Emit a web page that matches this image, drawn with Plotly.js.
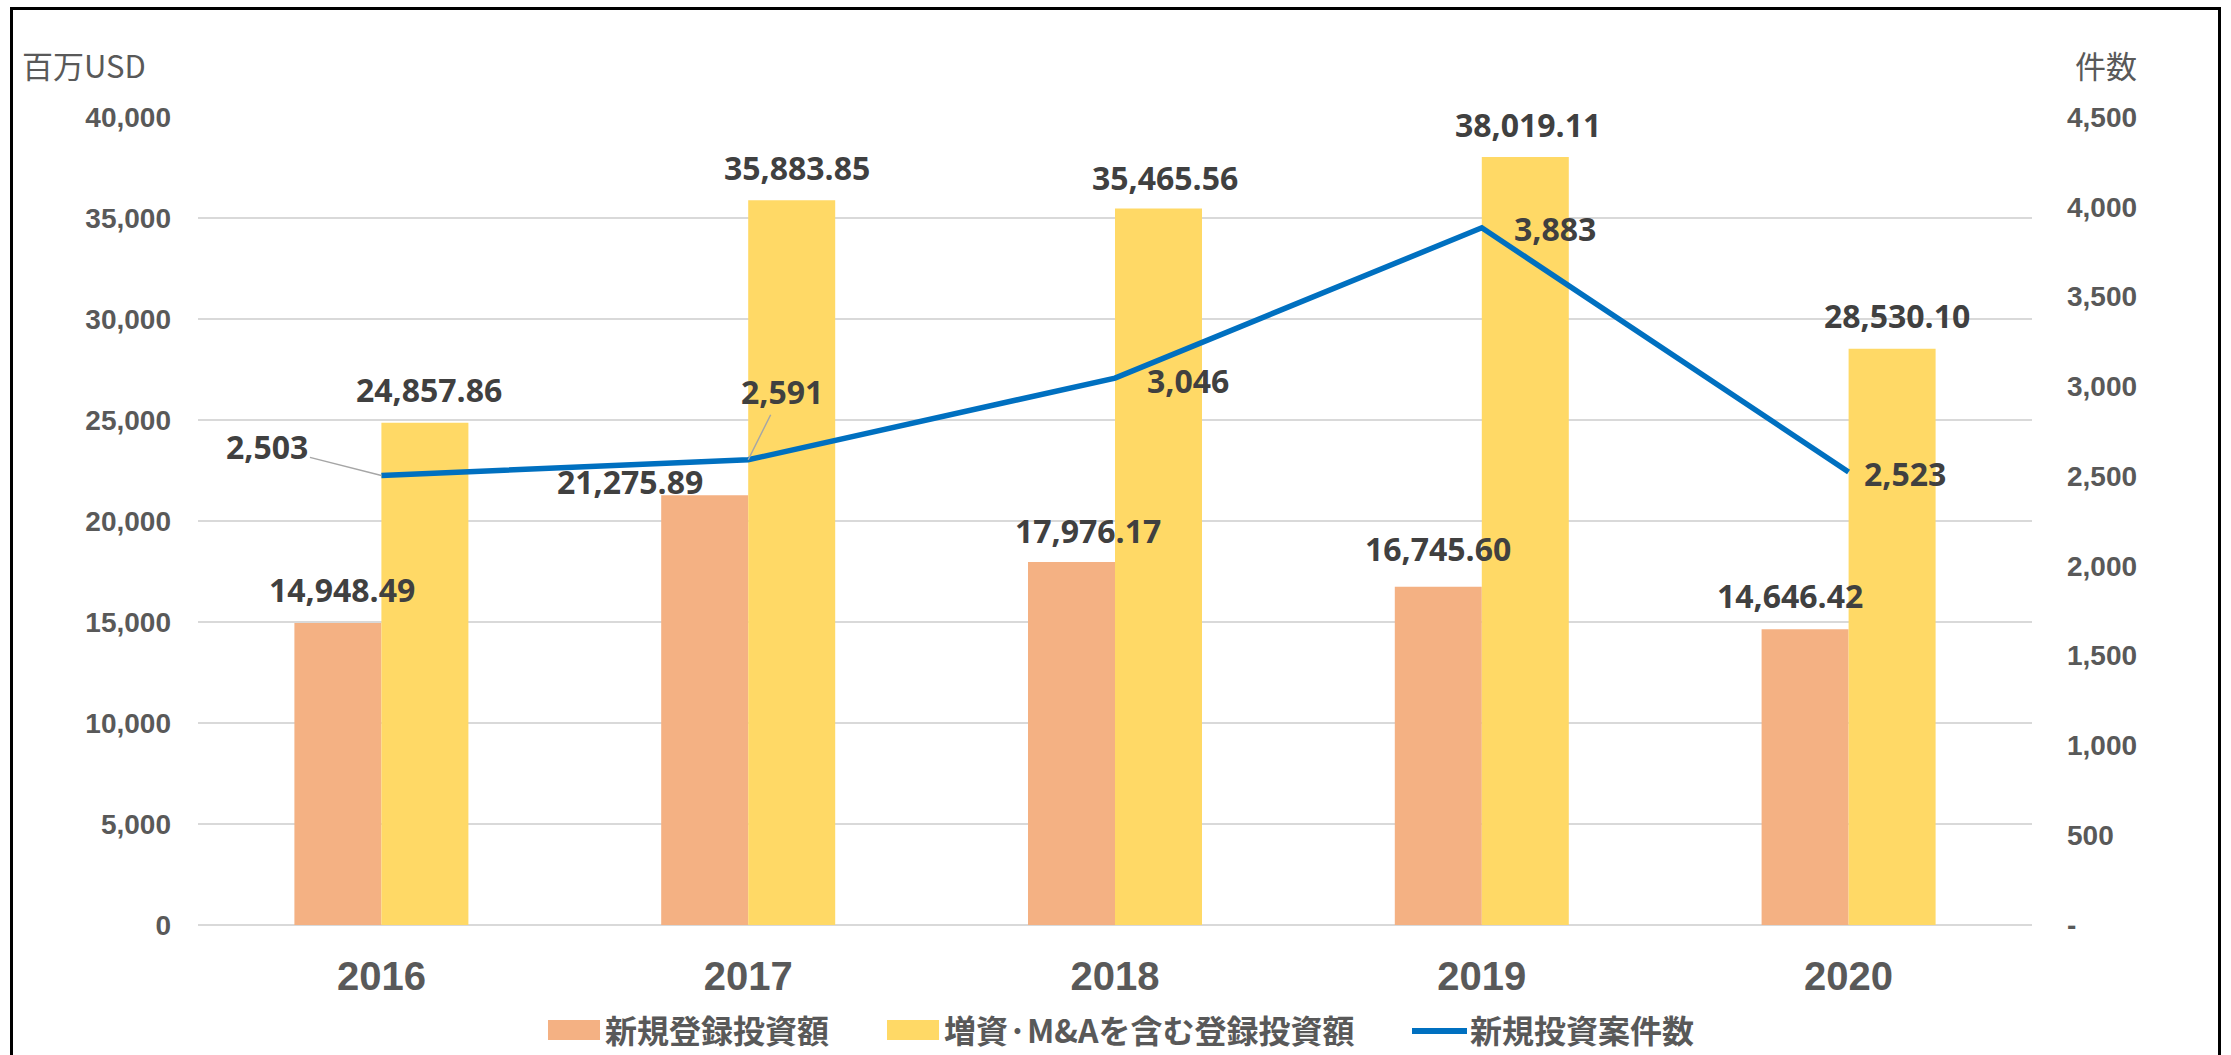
<!DOCTYPE html>
<html><head><meta charset="utf-8">
<script src="https://cdn.plot.ly/plotly-3.0.1.min.js"></script>
<style>
html,body{margin:0;padding:0;background:#fff;overflow:hidden}
#frame{position:absolute;left:10px;top:7px;width:2205px;height:1100px;border:3px solid #000;pointer-events:none}
</style></head><body>
<div id="chart" style="width:2231px;height:1055px"></div>
<div id="frame"></div>
<script>
// ---- data ----
const years = ['2016', '2017', '2018', '2019', '2020'];
const newInvest = [14948.49, 21275.89, 17976.17, 16745.60, 14646.42];
const totalInvest = [24857.86, 35883.85, 35465.56, 38019.11, 28530.10];
const dealCount = [2503, 2591, 3046, 3883, 2523];
const seriesNames = ['新規登録投資額', '増資·M&Aを含む登録投資額', '新規投資案件数'];
const leftTickVals = [0, 5000, 10000, 15000, 20000, 25000, 30000, 35000, 40000];
const rightTickVals = [0, 500, 1000, 1500, 2000, 2500, 3000, 3500, 4000, 4500];
const rightTickText = ['-', '500', '1,000', '1,500', '2,000', '2,500', '3,000', '3,500', '4,000', '4,500'];
const leftAxisTitle = '百万USD';
const rightAxisTitle = '件数';

// ---- layout / style ----
const W = 2231, H = 1055;
const M = {l: 198, r: 199, t: 117, b: 130};
const plotW = W - M.l - M.r, plotH = H - M.t - M.b;
const bargap = 0.5256;
const barW = plotW / years.length * (1 - bargap) / 2;
const px2x = p => (p - M.l) / plotW;
const py2y = p => (H - M.b - p) / plotH;

const orange = '#F4B183', yellow = '#FFD966', blue = '#0070C0';
const tickCol = '#595959', labCol = '#404040';
const numFont = 'Open Sans, DejaVu Sans, sans-serif';
const axFont = 'Liberation Sans, Arial, sans-serif';
const cjkFont = 'Noto Sans CJK JP, sans-serif';

// label offsets (pixels)
const orangeDx = [4, -75, 17, 0, -15], orangeDy = [34, 14, 31, 38, 34];
const yellowDx = [4, 5, 6, 3, 5], yellowDy = [33, 33, 31, 33, 33];
const lineLab = [
  {arrow: true, ax: -114, ay: -29},
  {arrow: true, ax: 34, ay: -68},
  {arrow: false, xs: 73, ys: -2},
  {arrow: false, xs: 73, ys: -1},
  {arrow: false, xs: 56, ys: -2}
];

const fmt2 = v => v.toLocaleString('en-US', {minimumFractionDigits: 2, maximumFractionDigits: 2});
const fmt0 = v => v.toLocaleString('en-US');

const traces = [
  {type: 'bar', name: seriesNames[0], x: years, y: newInvest, marker: {color: orange}, hoverinfo: 'skip'},
  {type: 'bar', name: seriesNames[1], x: years, y: totalInvest, marker: {color: yellow}, hoverinfo: 'skip'},
  {type: 'scatter', mode: 'lines', name: seriesNames[2], x: years, y: dealCount, yaxis: 'y2',
   line: {color: blue, width: 5.5}, hoverinfo: 'skip'}
];

const ann = [];
const labFont = {family: numFont, size: 32, color: labCol, weight: 'bold'};
years.forEach((yr, i) => {
  // category axis: annotation x given as category index
  ann.push({x: i, y: newInvest[i], xref: 'x', yref: 'y', text: fmt2(newInvest[i]), showarrow: false,
    xshift: -barW / 2 + orangeDx[i], yshift: orangeDy[i], yanchor: 'middle', font: labFont});
  ann.push({x: i, y: totalInvest[i], xref: 'x', yref: 'y', text: fmt2(totalInvest[i]), showarrow: false,
    xshift: barW / 2 + yellowDx[i], yshift: yellowDy[i], yanchor: 'middle', font: labFont});
  const L = lineLab[i];
  if (L.arrow) {
    ann.push({x: i, y: dealCount[i], xref: 'x', yref: 'y2', text: fmt0(dealCount[i]), showarrow: true,
      ax: L.ax, ay: L.ay, arrowhead: 0, arrowwidth: 1.5, arrowcolor: '#A6A6A6', standoff: 0, font: labFont});
  } else {
    ann.push({x: i, y: dealCount[i], xref: 'x', yref: 'y2', text: fmt0(dealCount[i]), showarrow: false,
      xshift: L.xs, yshift: L.ys, yanchor: 'middle', font: labFont});
  }
});

// axis titles
ann.push({xref: 'paper', yref: 'paper', x: px2x(84), y: py2y(65), text: leftAxisTitle, showarrow: false,
  xanchor: 'center', yanchor: 'middle', font: {family: cjkFont, size: 31, color: tickCol}});
ann.push({xref: 'paper', yref: 'paper', x: px2x(2106), y: py2y(65), text: rightAxisTitle, showarrow: false,
  xanchor: 'center', yanchor: 'middle', font: {family: cjkFont, size: 31, color: tickCol}});

// custom legend
const legY = 1029;
const legFont = {family: cjkFont, size: 32, color: tickCol, weight: 'bold'};
const shapes = [
  {type: 'rect', xref: 'paper', yref: 'paper', x0: px2x(548), x1: px2x(600), y0: py2y(1040), y1: py2y(1020),
   fillcolor: orange, line: {width: 0}},
  {type: 'rect', xref: 'paper', yref: 'paper', x0: px2x(887), x1: px2x(939), y0: py2y(1040), y1: py2y(1020),
   fillcolor: yellow, line: {width: 0}},
  {type: 'line', xref: 'paper', yref: 'paper', x0: px2x(1412), x1: px2x(1467), y0: py2y(1031), y1: py2y(1031),
   line: {color: blue, width: 6}}
];
[[603, 0], [942, 1], [1468, 2]].forEach(([p, k]) => {
  ann.push({xref: 'paper', yref: 'paper', x: px2x(p), y: py2y(legY), text: seriesNames[k], showarrow: false,
    xanchor: 'left', yanchor: 'middle', font: legFont});
});

const layout = {
  width: W, height: H,
  margin: M,
  paper_bgcolor: '#fff', plot_bgcolor: '#fff',
  barmode: 'group', bargap: bargap, bargroupgap: 0,
  showlegend: false, hovermode: false,
  xaxis: {type: 'category', range: [-0.5, years.length - 0.5], autorange: false,
    showline: false, showgrid: false, zeroline: false, ticks: '',
    tickfont: {family: axFont, size: 40, color: tickCol, weight: 'bold'}, ticklabelstandoff: 24},
  yaxis: {range: [0, 40000], tickvals: leftTickVals, tickformat: ',', showgrid: true, gridcolor: '#D9D9D9', gridwidth: 2,
    zeroline: true, zerolinecolor: '#D9D9D9', zerolinewidth: 2, showline: false, ticks: '',
    tickfont: {family: axFont, size: 28, color: tickCol, weight: 'bold'}, ticklabelstandoff: 26},
  yaxis2: {range: [0, 4500], overlaying: 'y', side: 'right', tickvals: rightTickVals, ticktext: rightTickText,
    showgrid: false, zeroline: false, showline: false, ticks: '',
    tickfont: {family: axFont, size: 28, color: tickCol, weight: 'bold'}, ticklabelstandoff: 34},
  annotations: ann,
  shapes: shapes
};

Plotly.newPlot('chart', traces, layout, {displayModeBar: false, staticPlot: true});
</script>
</body></html>
